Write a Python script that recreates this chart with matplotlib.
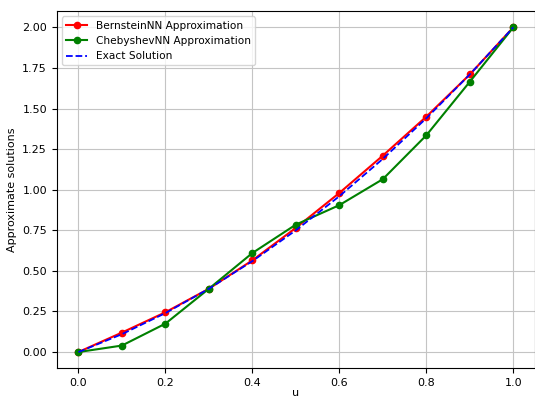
import numpy as np
import matplotlib
matplotlib.use("Agg")
import matplotlib.pyplot as plt

u = [0.0, 0.1, 0.2, 0.3, 0.4, 0.5, 0.6, 0.7, 0.8, 0.9, 1.0]
bernstein = [0.0, 0.12, 0.245, 0.39, 0.565, 0.765, 0.98, 1.21, 1.45, 1.71, 2.0]
chebyshev = [0.0, 0.04, 0.175, 0.39, 0.61, 0.785, 0.905, 1.065, 1.335, 1.665, 2.0]
exact = [0.0, 0.11, 0.24, 0.39, 0.56, 0.75, 0.96, 1.19, 1.44, 1.71, 2.0]

fig = plt.figure(figsize=(5.35, 3.99), dpi=100)
ax = fig.add_axes([0.106, 0.077, 0.894, 0.895])

ax.plot(u, bernstein, "r-o", markersize=4.5, linewidth=1.5, label="BernsteinNN Approximation")
ax.plot(u, chebyshev, "-o", markersize=4.5, linewidth=1.5, color="green", label="ChebyshevNN Approximation")
ax.plot(u, exact, "b--", linewidth=1.3, label="Exact Solution")

ax.set_xlim(-0.05, 1.05)
ax.set_ylim(-0.1, 2.1)
ax.set_xticks([0.0, 0.2, 0.4, 0.6, 0.8, 1.0])
ax.set_yticks(np.arange(0, 2.01, 0.25))
ax.tick_params(labelsize=8)
ax.set_xlabel("u", fontsize=8, labelpad=0)
ax.set_ylabel("Approximate solutions", fontsize=8)
ax.grid(True, color="#c4c4c4", linewidth=0.8)
ax.legend(loc="upper left", fontsize=7.6)

fig.savefig("out.png", dpi=100)
